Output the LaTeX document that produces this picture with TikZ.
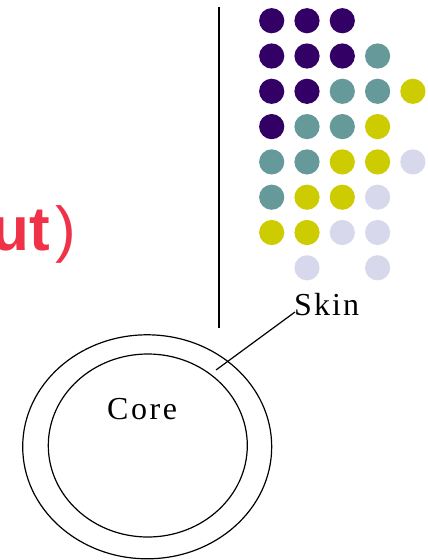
\documentclass[tikz,border=0pt]{standalone}
\usepackage{fontspec}
\setmainfont{Liberation Serif}
\newfontfamily\redsans{Liberation Sans}
\usetikzlibrary{shapes.geometric}
\definecolor{dpurple}{RGB}{51,0,102}
\definecolor{dteal}{RGB}{102,153,153}
\definecolor{dyellow}{RGB}{204,204,0}
\definecolor{dlav}{RGB}{216,216,236}
\definecolor{tred}{RGB}{240,50,72}
\begin{document}
\begin{tikzpicture}[x=1pt,y=-1pt,
  ring/.style={draw,ellipse,line width=1.2pt,inner sep=0pt},
  lbl/.style={inner sep=0pt,font=\fontsize{32}{36}\selectfont}]
\useasboundingbox (0,0) rectangle (428,560);
% red title fragment
\node[anchor=base east,inner sep=0pt,text=tred,font=\redsans\fontsize{62}{70}\selectfont] (title) at (76,250) {{\bfseries ut}\kern5pt)};
% vertical divider
\coordinate (vtop) at (219,7);
\coordinate (vbot) at (219,328);
\draw[line width=1.3pt] (vtop) -- (vbot);
% dots: column/row/colour
\foreach \ci/\ri/\col in {
  0/0/dpurple,1/0/dpurple,2/0/dpurple,
  0/1/dpurple,1/1/dpurple,2/1/dpurple,3/1/dteal,
  0/2/dpurple,1/2/dpurple,2/2/dteal,3/2/dteal,4/2/dyellow,
  0/3/dpurple,1/3/dteal,2/3/dteal,3/3/dyellow,
  0/4/dteal,1/4/dteal,2/4/dyellow,3/4/dyellow,4/4/dlav,
  0/5/dteal,1/5/dyellow,2/5/dyellow,3/5/dlav,
  0/6/dyellow,1/6/dyellow,2/6/dlav,3/6/dlav,
  1/7/dlav,3/7/dlav}
  \fill[\col] ({271.7+35.3*\ci},{20.7+35.3*\ri}) circle (12.6);
% rings
\node[ring,minimum width=249pt,minimum height=224pt] (skin) at (147.2,446.8) {};
\node[ring,minimum width=199pt,minimum height=183pt] (core) at (147.8,445.5) {};
\node[lbl,anchor=base west] (corelbl) at (107,419) {\addfontfeature{LetterSpace=8}Core};
\node[lbl,anchor=base west] (skinlbl) at (294,315) {\addfontfeature{LetterSpace=6.5}Skin};
\coordinate (skintip) at (295,312);
\coordinate (skinend) at (216,370);
\draw[line width=1.2pt] (skintip) -- (skinend);
\end{tikzpicture}
\end{document}
